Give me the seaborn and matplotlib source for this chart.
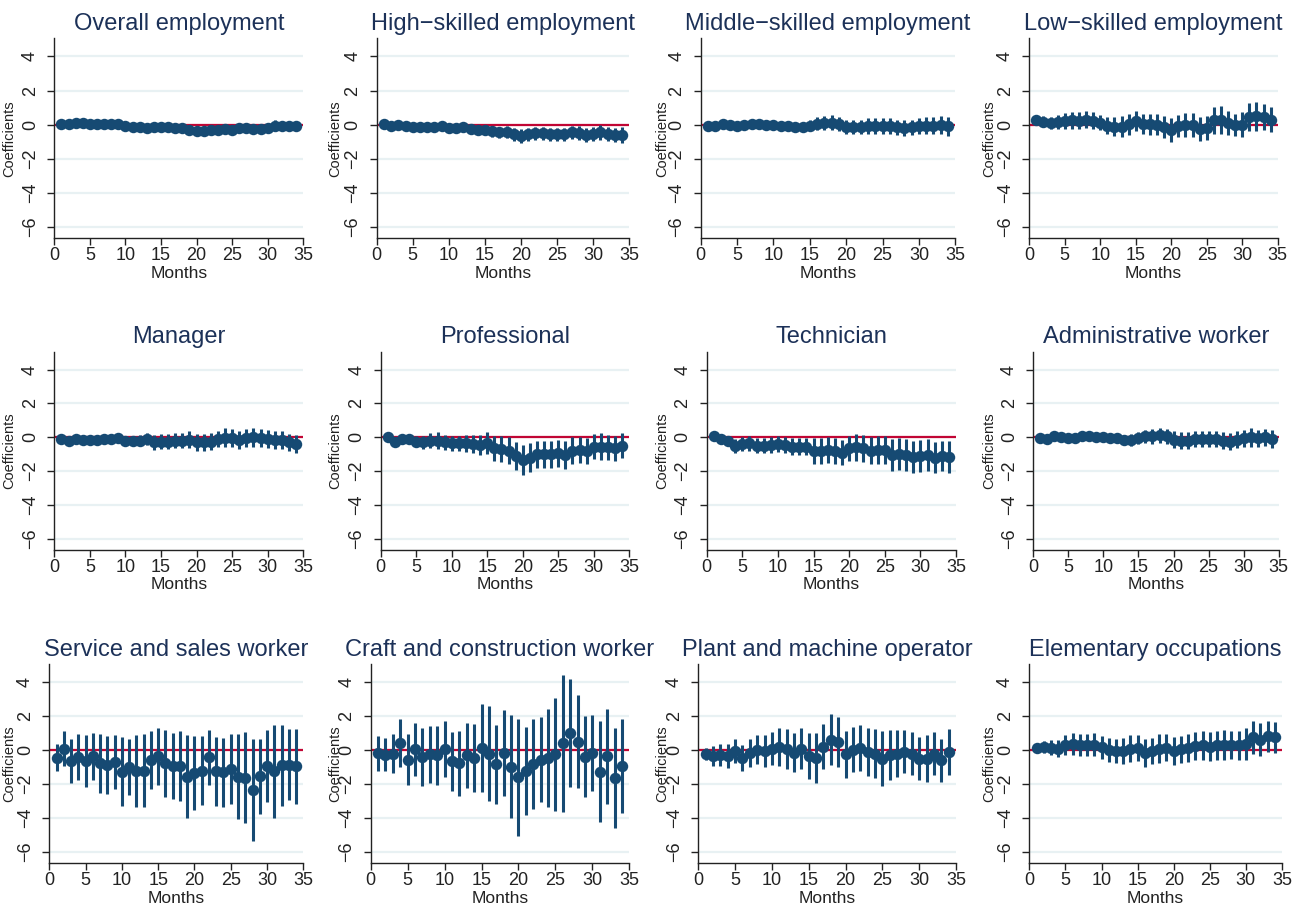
import matplotlib
matplotlib.use("Agg")
import matplotlib.pyplot as plt
import pandas as pd
import seaborn as sns

# ---------------- data ----------------
MONTHS = list(range(1, 35))

TITLES = [
    "Overall employment", "High\u2212skilled employment", "Middle\u2212skilled employment", "Low\u2212skilled employment",
    "Manager", "Professional", "Technician", "Administrative worker",
    "Service and sales worker", "Craft and construction worker", "Plant and machine operator", "Elementary occupations",
]

overall_coef = [0.05, 0.05, 0.1, 0.08, 0.05, 0.03, 0.02, 0.02, 0.03, -0.08, -0.12, -0.15, -0.18, -0.15, -0.12, -0.15, -0.18,
                -0.2, -0.3, -0.4, -0.35, -0.32, -0.3, -0.28, -0.3, -0.22, -0.18, -0.25, -0.25, -0.2, -0.05, -0.05, -0.05, -0.1]
overall_ci = [0.08, 0.1, 0.1, 0.1, 0.1, 0.1, 0.1, 0.1, 0.12, 0.15, 0.15, 0.18, 0.2, 0.2, 0.2, 0.2, 0.2,
              0.2, 0.22, 0.22, 0.22, 0.22, 0.22, 0.22, 0.22, 0.22, 0.22, 0.22, 0.22, 0.22, 0.3, 0.25, 0.25, 0.25]

high_coef = [0.05, -0.08, 0.0, -0.1, -0.12, -0.15, -0.15, -0.15, -0.1, -0.2, -0.2, -0.15, -0.25, -0.3, -0.3, -0.4, -0.45,
             -0.45, -0.55, -0.65, -0.55, -0.5, -0.5, -0.55, -0.55, -0.55, -0.45, -0.5, -0.6, -0.55, -0.45, -0.55, -0.6, -0.6]
high_ci = [0.05, 0.08, 0.1, 0.1, 0.12, 0.12, 0.13, 0.13, 0.15, 0.2, 0.2, 0.22, 0.25, 0.28, 0.3, 0.3, 0.32,
           0.35, 0.38, 0.4, 0.38, 0.38, 0.38, 0.38, 0.38, 0.38, 0.4, 0.4, 0.4, 0.42, 0.45, 0.42, 0.42, 0.45]

middle_coef = [-0.05, -0.08, 0.05, 0.0, -0.05, -0.02, 0.05, 0.05, 0.0, 0.0, -0.05, -0.05, -0.12, -0.12, -0.05, 0.05, 0.08,
               0.12, 0.05, -0.15, -0.15, -0.15, -0.08, -0.08, -0.08, -0.08, -0.15, -0.2, -0.15, -0.08, -0.05, -0.05, 0.0, -0.1]
middle_ci = [0.05, 0.08, 0.1, 0.12, 0.15, 0.15, 0.2, 0.2, 0.22, 0.25, 0.28, 0.28, 0.3, 0.3, 0.35, 0.38, 0.4,
             0.45, 0.4, 0.42, 0.42, 0.42, 0.45, 0.45, 0.45, 0.45, 0.45, 0.45, 0.45, 0.48, 0.52, 0.52, 0.52, 0.55]

low_coef = [0.25, 0.18, 0.12, 0.15, 0.22, 0.25, 0.22, 0.28, 0.22, 0.12, -0.05, -0.12, -0.12, 0.02, 0.2, 0.05, 0.02,
            0.0, -0.15, -0.3, -0.1, 0.0, 0.0, -0.25, -0.2, 0.25, 0.28, 0.1, 0.0, 0.0, 0.45, 0.5, 0.45, 0.3]
low_ci = [0.1, 0.3, 0.35, 0.4, 0.45, 0.5, 0.5, 0.5, 0.5, 0.45, 0.5, 0.55, 0.6, 0.6, 0.6, 0.6, 0.6,
          0.6, 0.65, 0.7, 0.65, 0.7, 0.7, 0.7, 0.7, 0.8, 0.8, 0.7, 0.65, 0.75, 0.8, 0.85, 0.75, 0.75]

manager_coef = [-0.1, -0.2, -0.1, -0.15, -0.15, -0.18, -0.12, -0.12, -0.05, -0.2, -0.2, -0.2, -0.1, -0.3, -0.25, -0.25, -0.2,
                -0.2, -0.15, -0.3, -0.3, -0.25, -0.1, -0.02, -0.05, -0.15, -0.05, 0.0, -0.05, -0.1, -0.15, -0.15, -0.3, -0.4]
manager_ci = [0.05, 0.1, 0.12, 0.15, 0.18, 0.2, 0.2, 0.25, 0.3, 0.3, 0.3, 0.32, 0.35, 0.45, 0.45, 0.45, 0.45,
              0.45, 0.5, 0.5, 0.5, 0.5, 0.5, 0.55, 0.55, 0.55, 0.55, 0.55, 0.55, 0.55, 0.55, 0.55, 0.5, 0.55]

prof_coef = [0.0, -0.25, -0.1, -0.12, -0.25, -0.3, -0.2, -0.2, -0.3, -0.35, -0.35, -0.35, -0.4, -0.45, -0.35, -0.65, -0.7,
             -0.8, -1.1, -1.35, -1.2, -1.0, -1.0, -1.0, -0.95, -1.05, -0.8, -0.75, -0.8, -0.55, -0.55, -0.6, -0.65, -0.5]
prof_ci = [0.05, 0.15, 0.25, 0.3, 0.35, 0.4, 0.45, 0.5, 0.45, 0.45, 0.45, 0.5, 0.55, 0.6, 0.65, 0.75, 0.75,
           0.8, 0.85, 0.9, 0.85, 0.8, 0.8, 0.8, 0.8, 0.85, 0.8, 0.75, 0.75, 0.75, 0.8, 0.75, 0.75, 0.75]

tech_coef = [0.1, -0.1, -0.2, -0.5, -0.4, -0.35, -0.5, -0.5, -0.45, -0.4, -0.45, -0.55, -0.55, -0.55, -0.8, -0.8, -0.75,
             -0.8, -0.9, -0.65, -0.6, -0.65, -0.8, -0.75, -0.75, -1.05, -1.0, -1.05, -1.15, -1.1, -1.05, -1.2, -1.1, -1.15]
tech_ci = [0.1, 0.12, 0.3, 0.4, 0.42, 0.45, 0.45, 0.45, 0.45, 0.45, 0.45, 0.5, 0.5, 0.5, 0.75, 0.75, 0.75,
           0.75, 0.75, 0.75, 0.8, 0.8, 0.8, 0.8, 0.8, 0.95, 0.95, 0.95, 0.95, 0.95, 0.95, 0.9, 0.9, 0.95]

admin_coef = [-0.05, -0.08, 0.05, 0.02, -0.05, -0.02, 0.05, 0.05, 0.02, 0.0, -0.05, -0.05, -0.15, -0.15, -0.05, 0.05, 0.05,
              0.12, 0.05, -0.15, -0.2, -0.2, -0.1, -0.1, -0.1, -0.1, -0.2, -0.25, -0.15, -0.05, 0.0, -0.05, 0.0, -0.1]
admin_ci = [0.05, 0.08, 0.1, 0.1, 0.15, 0.15, 0.25, 0.25, 0.28, 0.3, 0.3, 0.3, 0.3, 0.35, 0.35, 0.4, 0.45,
            0.45, 0.45, 0.5, 0.5, 0.5, 0.5, 0.5, 0.5, 0.5, 0.5, 0.5, 0.5, 0.5, 0.55, 0.5, 0.5, 0.55]

service_coef = [-0.43, 0.09, -0.62, -0.39, -0.62, -0.36, -0.76, -0.89, -0.67, -1.26, -0.96, -1.2, -1.22, -0.56, -0.37, -0.78, -0.93,
                -0.93, -1.57, -1.33, -1.21, -0.4, -1.25, -1.3, -1.1, -1.55, -1.63, -2.32, -1.54, -0.93, -1.25, -0.88, -0.85, -0.94]
service_ci = [0.79, 1.03, 1.3, 1.37, 1.54, 1.4, 1.74, 1.71, 1.59, 2.01, 1.65, 2.12, 2.15, 1.7, 1.7, 2.0, 1.97,
              2.05, 2.45, 2.17, 2.03, 1.62, 2.03, 2.03, 2.08, 2.53, 2.68, 3.01, 2.23, 2.11, 2.72, 2.39, 2.09, 2.2]

craft_coef = [-0.19, -0.27, -0.2, 0.44, -0.56, 0.05, -0.4, -0.24, -0.31, 0.09, -0.66, -0.77, -0.31, -0.46, 0.12, -0.2, -0.84,
              -0.17, -0.96, -1.6, -1.24, -0.82, -0.55, -0.47, -0.24, 0.4, 1.03, 0.5, -0.38, -0.15, -1.26, -0.35, -1.65, -0.92]
craft_ci = [1.03, 0.98, 1.13, 1.42, 1.49, 1.54, 1.69, 1.67, 1.74, 1.64, 1.72, 1.9, 1.9, 1.98, 2.58, 2.82, 2.3,
            2.53, 3.04, 3.43, 2.58, 2.63, 2.48, 2.9, 3.33, 4.05, 3.19, 2.74, 2.37, 2.25, 2.96, 2.8, 2.95, 2.78]

plant_coef = [-0.2, -0.33, -0.3, -0.33, -0.05, -0.45, -0.14, 0.04, -0.04, 0.1, 0.2, 0.06, -0.14, 0.1, -0.33, -0.45, 0.2,
              0.63, 0.49, -0.24, 0.04, 0.14, -0.1, -0.2, -0.49, -0.3, -0.2, -0.1, -0.2, -0.49, -0.49, -0.2, -0.59, -0.1]
plant_ci = [0.35, 0.6, 0.65, 0.7, 0.7, 0.78, 0.83, 0.85, 0.93, 0.96, 1.13, 1.17, 1.16, 1.2, 1.34, 1.47, 1.32,
            1.53, 1.48, 1.4, 1.35, 1.34, 1.42, 1.45, 1.6, 1.48, 1.4, 1.27, 1.25, 1.27, 1.37, 1.27, 1.27, 1.37]

elem_coef = [0.14, 0.2, 0.14, 0.1, 0.3, 0.39, 0.33, 0.3, 0.33, 0.16, 0.0, -0.04, -0.06, 0.1, 0.14, -0.14, -0.06,
             0.1, 0.14, -0.04, 0.06, 0.14, 0.25, 0.29, 0.2, 0.29, 0.33, 0.29, 0.29, 0.35, 0.75, 0.63, 0.82, 0.75]
elem_ci = [0.2, 0.35, 0.45, 0.5, 0.6, 0.65, 0.65, 0.67, 0.69, 0.7, 0.7, 0.72, 0.77, 0.77, 0.77, 0.83, 0.78,
           0.83, 0.8, 0.81, 0.8, 0.84, 0.85, 0.85, 0.86, 0.87, 0.88, 0.83, 0.87, 0.95, 0.98, 0.95, 0.93, 0.93]

COEFS = [overall_coef, high_coef, middle_coef, low_coef,
         manager_coef, prof_coef, tech_coef, admin_coef,
         service_coef, craft_coef, plant_coef, elem_coef]
CIS = [overall_ci, high_ci, middle_ci, low_ci,
       manager_ci, prof_ci, tech_ci, admin_ci,
       service_ci, craft_ci, plant_ci, elem_ci]

YTICKS = [-6, -4, -2, 0, 2, 4]
XTICKS = [0, 5, 10, 15, 20, 25, 30, 35]

# ---------------- style / layout ----------------
sns.set_theme(style="ticks")
plt.rcParams["font.family"] = ["Liberation Sans", "DejaVu Sans"]

W, H = 1301, 911
MARK = "#164a73"
RED = "#c10534"
GRID = "#e8f1f3"
TITLE_C = "#1c3158"
TXT = "#222222"

row_top = [38.3, 351.7, 664.3]
row_bot = [238.3, 550.0, 863.3]
col_left = [[54.3, 376.7, 700.7, 1029.3],
            [54.3, 380.7, 706.7, 1033.3],
            [49.3, 370.7, 698.3, 1029.3]]
col_right = [[303.3, 629.3, 955.3, 1277.7],
             [303.3, 629.3, 956.0, 1278.7],
             [303.3, 629.3, 956.0, 1282.0]]
ylab_x = [16, 342, 669, 996]

fig = plt.figure(figsize=(W / 100, H / 100), dpi=100)
fig.patch.set_facecolor("white")

for i in range(12):
    r, c = divmod(i, 4)
    l, rr = col_left[r][c], col_right[r][c]
    t, b = row_top[r], row_bot[r]
    ax = fig.add_axes([l / W, 1 - b / H, (rr - l) / W, (b - t) / H])
    df = pd.DataFrame({"Months": MONTHS, "coef": COEFS[i], "ci": CIS[i]})
    df["lo"] = df["coef"] - df["ci"]
    df["hi"] = df["coef"] + df["ci"]

    ax.set_xlim(0, 35)
    ax.set_ylim(-6.66, 5.06)
    for yv in YTICKS:
        ax.axhline(yv, color=GRID, lw=1.6, zorder=0)
    ax.axhline(0, color=RED, lw=1.6, zorder=1)
    ax.vlines(df["Months"], df["lo"], df["hi"], color=MARK, lw=2.2, zorder=2)
    sns.scatterplot(data=df, x="Months", y="coef", ax=ax, color=MARK, s=68,
                    edgecolor=MARK, linewidth=0, zorder=3, legend=False)

    ax.set_xticks(XTICKS)
    ax.set_yticks(YTICKS)
    ax.set_yticklabels([f"\u2212{abs(v)}" if v < 0 else str(v) for v in YTICKS],
                       rotation=90, va="center")
    ax.tick_params(axis="both", direction="out", length=5, width=1, colors=TXT,
                   labelsize=13)
    ax.tick_params(axis="y", pad=6)
    ax.tick_params(axis="x", pad=1.5)
    for s in ["top", "right"]:
        ax.spines[s].set_visible(False)
    for s in ["left", "bottom"]:
        ax.spines[s].set_color(TXT)
        ax.spines[s].set_linewidth(1)

    ax.set_xlabel("Months", fontsize=12.5, color=TXT, labelpad=1)
    ax.set_ylabel("Coefficients", fontsize=10.5, color=TXT)
    ax.yaxis.set_label_coords(ylab_x[c] / W, 1 - ((t + b) / 2) / H, transform=fig.transFigure)
    ax.set_title(TITLES[i], fontsize=17, color=TITLE_C, pad=6)

fig.savefig("out.png", dpi=100)
